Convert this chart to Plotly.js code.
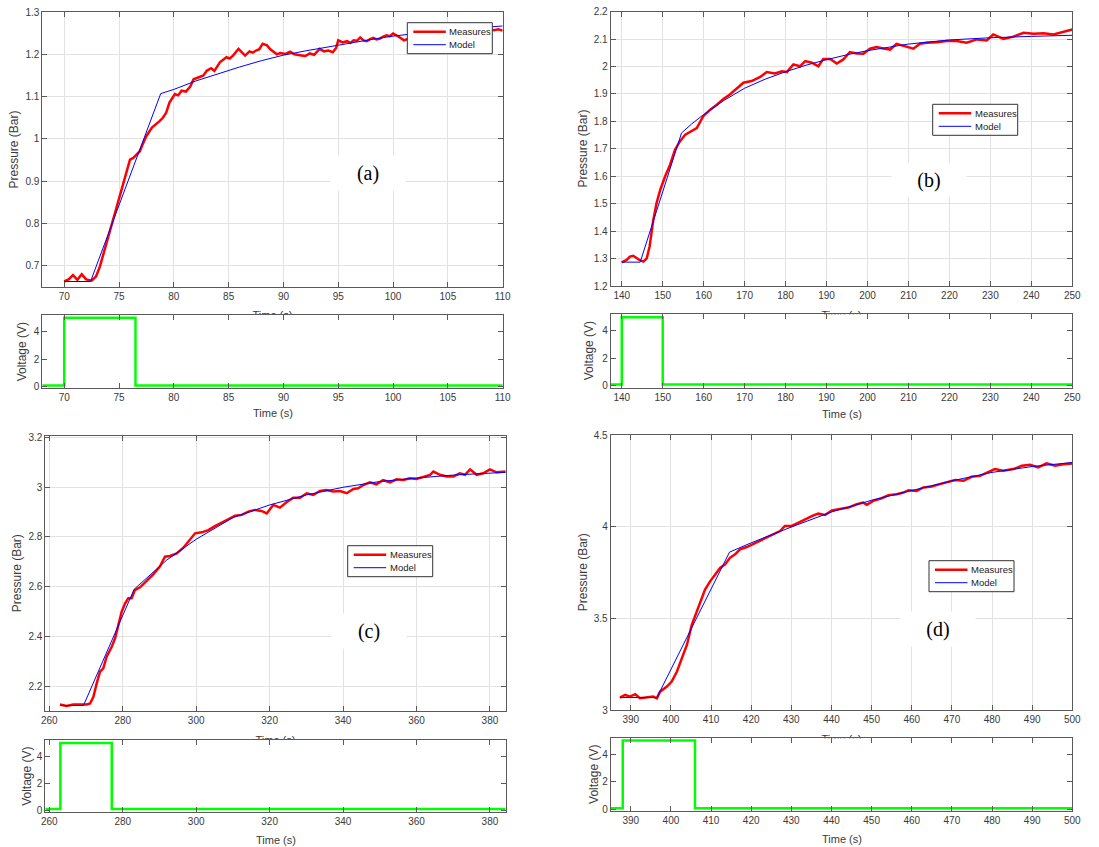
<!DOCTYPE html>
<html><head><meta charset="utf-8">
<script src="https://cdn.plot.ly/plotly-3.0.1.min.js"></script>
<style>html,body{margin:0;padding:0;background:#fff;}#chart{width:1099px;height:847px;}</style>
</head><body><div id="chart"></div>
<script>
// ---------- data ----------
// Panel (a)
const tA_meas = [70.0,70.4,70.8,71.2,71.6,72.0,72.5,72.9,73.25,73.7,74.2,74.6,74.9,75.2,75.5,76.0,76.3,76.6,76.9,77.2,77.5,78.0,78.4,78.7,79.0,79.3,79.6,80.1,80.4,80.7,81.1,81.5,81.8,82.1,82.4,82.7,83.0,83.4,83.7,84.2,84.5,84.8,85.1,85.4,85.9,86.2,86.5,86.9,87.2,87.5,87.8,88.1,88.5,88.8,89.1,89.4,89.7,90.2,90.6,91.0,91.5,92.0,92.4,92.8,93.3,93.7,94.1,94.5,94.8,95.0,95.4,95.8,96.1,96.4,96.7,97.0,97.3,97.6,97.9,98.2,98.5,98.8,99.1,99.4,99.7,100.0,100.3,100.6,101.0,101.5,102,103,104,105,106,107,108,108.7,109.2,109.6,110];
const pA_meas = [0.663,0.668,0.678,0.667,0.680,0.668,0.665,0.675,0.698,0.740,0.785,0.820,0.848,0.875,0.904,0.951,0.955,0.962,0.971,0.990,1.007,1.027,1.035,1.042,1.050,1.062,1.086,1.106,1.103,1.114,1.112,1.124,1.141,1.145,1.147,1.150,1.161,1.167,1.161,1.181,1.186,1.193,1.190,1.197,1.213,1.205,1.197,1.207,1.204,1.209,1.212,1.225,1.221,1.212,1.205,1.200,1.203,1.201,1.206,1.200,1.198,1.196,1.202,1.199,1.213,1.207,1.209,1.205,1.215,1.233,1.228,1.231,1.227,1.233,1.232,1.240,1.233,1.231,1.236,1.239,1.235,1.237,1.242,1.245,1.243,1.249,1.245,1.240,1.233,1.238,1.242,1.245,1.248,1.250,1.252,1.255,1.257,1.260,1.257,1.259,1.256];
const tA_model = [70,72.4,78.8,80,82,84,86,88,90,92,95,98,100,103,106,110];
const pA_model = [0.663,0.663,1.107,1.117,1.137,1.154,1.170,1.185,1.198,1.208,1.222,1.235,1.243,1.252,1.259,1.267];
const tA_volt = [68,70,70,76.5,76.5,110];
const vA_volt = [0.08,0.08,5,5,0.08,0.08];

// Panel (b)
const tB_meas = [140,141.2,142,142.8,143.7,144.5,145.3,146.1,146.8,147.7,148.5,149.4,150.6,151.8,153,154.2,155.5,157.1,158.3,159.9,161.6,163.2,164.8,166.4,168.1,169.7,171.7,173.8,175.4,177.4,179.1,180.3,181.9,183.5,184.8,186.4,188,189.2,190.9,192.5,194.1,195.7,197.4,199,200.6,202.2,203.9,205.5,207.1,209.2,211.2,212.8,214.5,216.9,219.3,221.8,224.2,226.7,229.1,230.7,233.2,235.6,238.1,240.5,243,245.4,247.8,250];
const pB_meas = [1.286,1.295,1.307,1.31,1.301,1.293,1.289,1.301,1.344,1.441,1.502,1.551,1.6,1.642,1.697,1.727,1.752,1.764,1.776,1.819,1.843,1.861,1.882,1.898,1.922,1.941,1.947,1.962,1.98,1.975,1.983,1.98,2.008,2.001,2.02,2.014,2.001,2.028,2.028,2.011,2.026,2.053,2.048,2.047,2.065,2.071,2.066,2.062,2.083,2.075,2.065,2.083,2.087,2.089,2.093,2.093,2.087,2.099,2.095,2.117,2.101,2.109,2.123,2.12,2.121,2.117,2.127,2.135];
const tB_model = [140,144.5,154.6,157,160,165,170,175,180,185,190,195,200,205,210,220,230,240,250];
const pB_model = [1.287,1.287,1.758,1.790,1.825,1.877,1.921,1.954,1.981,2.005,2.025,2.043,2.058,2.071,2.082,2.097,2.105,2.110,2.114];
const tB_volt = [137.3,140,140,150,150,250];
const vB_volt = [0.08,0.08,5,5,0.08,0.08];

// Panel (c)
const tC_meas = [262.9,264.7,266.5,268.8,270.2,271.1,272,272.9,273.8,274.7,275.6,277,277.9,278.8,279.7,280.6,281.5,282.4,283.3,284.7,286.5,288.3,290.1,291.5,292.9,294.7,296.5,298.3,299.7,301.5,303.3,305.1,306.9,308.7,310.6,312.4,314.2,316,317.8,319.2,321,322.8,324.6,326.4,328.3,330.1,331.9,333.7,335.5,337.3,339.2,341,342.8,344.1,345.5,347.3,349.1,350.9,352.8,354.6,356.4,358.2,360,361.8,363.7,364.6,366.4,368.2,370,371.8,373.2,374.6,376.4,378.2,380,381.8,384.3];
const pC_meas = [2.126,2.12,2.126,2.126,2.126,2.13,2.157,2.211,2.258,2.271,2.318,2.358,2.392,2.445,2.499,2.532,2.553,2.553,2.586,2.597,2.622,2.649,2.68,2.72,2.723,2.733,2.756,2.787,2.814,2.818,2.827,2.843,2.858,2.87,2.885,2.888,2.901,2.908,2.904,2.894,2.928,2.917,2.939,2.957,2.957,2.975,2.968,2.984,2.988,2.982,2.984,2.975,2.992,2.995,3.008,3.019,3.011,3.028,3.019,3.031,3.028,3.035,3.032,3.039,3.049,3.062,3.049,3.042,3.042,3.055,3.049,3.071,3.049,3.055,3.071,3.059,3.062];
const tC_model = [263,269.3,283.1,286.5,292,300,310,320,330,340,350,360,370,384.3];
const pC_model = [2.122,2.122,2.589,2.633,2.707,2.79,2.877,2.928,2.968,2.999,3.022,3.036,3.048,3.059];
const tC_volt = [258.9,263,263,277,277,384.3];
const vC_volt = [0.08,0.08,5,5,0.08,0.08];

// Panel (d)
const tD_meas = [387.3,388.6,389.8,391.1,392.3,394,395.6,396.5,397.3,399,400.2,401.5,402.7,404,405.2,406.4,407.3,408.5,409.8,411,412.3,413.5,414.7,416,417.2,418.9,420.6,422.2,423.9,425.5,427.2,428.4,430.1,431.8,433.4,435.1,436.7,438.4,440.1,442.1,444.2,446.3,447.9,448.8,450.4,452.5,454.2,456.3,457.9,459.2,461.2,462.9,465,467,468.7,470.8,472.9,474.9,477,479.1,480.7,482.8,485.3,487.4,489.5,491.5,493.6,495.7,497.8,500];
const pD_meas = [3.068,3.082,3.073,3.086,3.064,3.068,3.073,3.064,3.1,3.128,3.155,3.21,3.283,3.356,3.465,3.538,3.584,3.657,3.703,3.739,3.776,3.794,3.83,3.849,3.876,3.889,3.907,3.922,3.943,3.958,3.976,4.004,4.004,4.022,4.04,4.058,4.071,4.064,4.089,4.095,4.104,4.122,4.131,4.119,4.141,4.155,4.172,4.177,4.186,4.199,4.195,4.214,4.219,4.232,4.241,4.254,4.25,4.272,4.277,4.296,4.314,4.305,4.314,4.332,4.338,4.323,4.345,4.332,4.341,4.345];
const tD_model = [387.3,396.5,414.6,420,430,440,450,460,470,480,490,500];
const pD_model = [3.068,3.068,3.861,3.912,3.998,4.080,4.144,4.199,4.25,4.296,4.328,4.35];
const tD_volt = [385,388,388,406,406,500];
const vD_volt = [0.08,0.08,5,5,0.08,0.08];

// labels
const panelLabels = ['(a)','(b)','(c)','(d)'];
const legendNames = ['Measures','Model'];
const pressureTitle = 'Pressure (Bar)';
const voltageTitle = 'Voltage (V)';
const timeTitle = 'Time (s)';

// ---------- layout config ----------
const W = 1099, H = 847;
const FONT = 'Liberation Sans, Arial, Helvetica, sans-serif';
const SERIF = 'Liberation Serif, Times New Roman, serif';
const FRAME = '#5a5a5a', TXT = '#3a3a3a', GRID = '#e2e2e2';
const RED = '#ff0000', BLUE = '#0000ff', GREEN = '#00ff00';
const dx = px => px / W, dy = py => 1 - py / H;

const panels = [
  {tm:tA_meas, pm:pA_meas, tmod:tA_model, pmod:pA_model, tv:tA_volt, vv:vA_volt,
   L:42.3, R:502.7, pT:12, pB:287, vT:315, vB:388.3, xr:[68,110], xd:5, pr:[0.65,1.3], pd:0.1, vr:[-0.12,5.2],
   leg:{x:407.3, y:22.7}, lab:{x:368, y:173}, pyt:14, vyt:21.7, vxt:413, cut:313.5},
  {tm:tB_meas, pm:pB_meas, tmod:tB_model, pmod:pB_model, tv:tB_volt, vv:vB_volt,
   L:610.7, R:1072.3, pT:11.7, pB:286, vT:314.3, vB:387.7, xr:[137.3,250], xd:10, pr:[1.2,2.2], pd:0.1, vr:[-0.15,5.22],
   leg:{x:932.7, y:104.3}, lab:{x:929, y:180}, pyt:582.7, vyt:589.3, vxt:414, cut:313.5},
  {tm:tC_meas, pm:pC_meas, tmod:tC_model, pmod:pC_model, tv:tC_volt, vv:vC_volt,
   L:45.3, R:505.7, pT:436, pB:711, vT:740, vB:812.3, xr:[258.9,384.3], xd:20, pr:[2.1,3.205], pd:0.2, vr:[-0.17,5.22],
   leg:{x:347.7, y:545.7}, lab:{x:368.5, y:631}, pyt:16.7, vyt:26.7, vxt:840, cut:739},
  {tm:tD_meas, pm:pD_meas, tmod:tD_model, pmod:pD_model, tv:tD_volt, vv:vD_volt,
   L:610.7, R:1072.3, pT:435, pB:710, vT:738.3, vB:811, xr:[385,500], xd:10, pr:[3,4.5], pd:0.5, vr:[-0.12,5.16],
   leg:{x:929, y:560.7}, lab:{x:938, y:629}, pyt:582.7, vyt:593.3, vxt:839, cut:737.5}
];

function axBase() {
  return {showline:true, mirror:'ticks', linecolor:FRAME, linewidth:1, ticks:'inside', ticklen:5,
          tickcolor:FRAME, tickwidth:1, zeroline:false, fixedrange:true,
          tickfont:{family:FONT, size:10, color:TXT}};
}

const traces = [];
const layout = {
  width:W, height:H, margin:{l:0,r:0,t:0,b:0}, paper_bgcolor:'#fff', plot_bgcolor:'#fff',
  showlegend:false, font:{family:FONT, color:TXT}, annotations:[], shapes:[]
};
const A = layout.annotations, S = layout.shapes;

panels.forEach((p, i) => {
  const np = 2*i + 1, nv = 2*i + 2;
  const sp = np === 1 ? '' : String(np);
  const xp = 'x' + sp, yp = 'y' + sp, xv = 'x' + nv, yv = 'y' + nv;

  // pressure axes
  layout['xaxis' + sp] = Object.assign(axBase(), {
    domain:[dx(p.L), dx(p.R)], anchor:yp, range:p.xr, tick0:0, dtick:p.xd,
    showgrid:true, gridcolor:GRID, gridwidth:1});
  layout['yaxis' + sp] = Object.assign(axBase(), {
    domain:[dy(p.pB), dy(p.pT)], anchor:xp, range:p.pr, tick0:0, dtick:p.pd,
    showgrid:true, gridcolor:GRID, gridwidth:1});
  // voltage axes
  layout['xaxis' + nv] = Object.assign(axBase(), {
    domain:[dx(p.L), dx(p.R)], anchor:yv, range:p.xr, tick0:0, dtick:p.xd, showgrid:false});
  layout['yaxis' + nv] = Object.assign(axBase(), {
    domain:[dy(p.vB), dy(p.vT)], anchor:xv, range:p.vr, tick0:0, dtick:2, showgrid:false});

  traces.push({type:'scatter', mode:'lines', x:p.tm, y:p.pm, xaxis:xp, yaxis:yp, name:legendNames[0],
    line:{color:RED, width:2.5}, hoverinfo:'skip'});
  traces.push({type:'scatter', mode:'lines', x:p.tmod, y:p.pmod, xaxis:xp, yaxis:yp, name:legendNames[1],
    line:{color:BLUE, width:1}, hoverinfo:'skip'});
  traces.push({type:'scatter', mode:'lines', x:p.tv, y:p.vv, xaxis:xv, yaxis:yv, name:'Voltage',
    line:{color:GREEN, width:2.5}, hoverinfo:'skip'});

  // x title of the pressure plot, drawn underneath and partly hidden by the opaque voltage axes
  const cx = (p.L + p.R) / 2;
  S.push({type:'rect', xref:'paper', yref:'paper', x0:dx(cx - 30), x1:dx(cx + 30), y0:dy(p.cut + 8), y1:dy(p.cut - 8),
    line:{width:0}, fillcolor:'rgba(0,0,0,0)', layer:'below',
    label:{text:timeTitle, textposition:'middle center', font:{family:FONT, size:11, color:TXT}}});
  // opaque background of the voltage axes
  S.push({type:'rect', xref:xv, yref:yv, x0:p.xr[0], x1:p.xr[1], y0:p.vr[0], y1:p.vr[1],
    fillcolor:'#ffffff', line:{width:0}, layer:'below'});

  // legend box (MATLAB style)
  const bx = p.leg.x, by = p.leg.y;
  S.push({type:'rect', xref:'paper', yref:'paper', x0:dx(bx), x1:dx(bx + 85), y0:dy(by + 31), y1:dy(by),
    fillcolor:'#ffffff', line:{color:'#333333', width:1}, layer:'above'});
  [[RED, 2.5, 9], [BLUE, 1, 22]].forEach((st, k) => {
    S.push({type:'line', xref:'paper', yref:'paper', x0:dx(bx + 6), x1:dx(bx + 38.5), y0:dy(by + st[2]), y1:dy(by + st[2]),
      line:{color:st[0], width:st[1]}, layer:'above'});
    A.push({xref:'paper', yref:'paper', x:dx(bx + 40), y:dy(by + st[2]), xanchor:'left', yanchor:'middle',
      text:legendNames[k], showarrow:false, font:{family:FONT, size:9.5, color:'#222'}});
  });

  A.push({xref:'paper', yref:'paper', x:dx(p.lab.x), y:dy(p.lab.y), xanchor:'center', yanchor:'middle',
    text:panelLabels[i], showarrow:false, font:{family:SERIF, size:20, color:'#000'}, bgcolor:'#ffffff', width:72, height:32});
  A.push({xref:'paper', yref:'paper', x:dx(p.pyt), y:dy((p.pT + p.pB) / 2), xanchor:'center', yanchor:'middle',
    text:pressureTitle, showarrow:false, textangle:-90, font:{family:FONT, size:12, color:TXT}});
  A.push({xref:'paper', yref:'paper', x:dx(p.vyt), y:dy((p.vT + p.vB) / 2), xanchor:'center', yanchor:'middle',
    text:voltageTitle, showarrow:false, textangle:-90, font:{family:FONT, size:12, color:TXT}});
  A.push({xref:'paper', yref:'paper', x:dx(cx), y:dy(p.vxt), xanchor:'center', yanchor:'middle',
    text:timeTitle, showarrow:false, font:{family:FONT, size:11, color:TXT}});
});

Plotly.newPlot('chart', traces, layout, {displayModeBar:false, staticPlot:true});
</script></body></html>
